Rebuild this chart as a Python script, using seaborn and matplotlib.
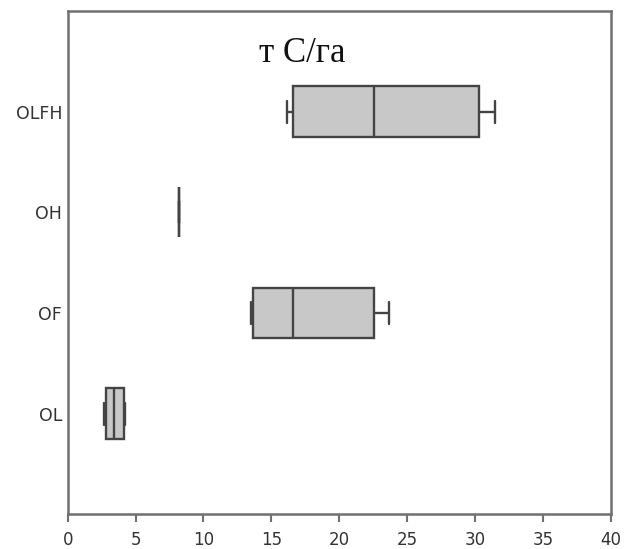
import matplotlib
matplotlib.use("Agg")
import matplotlib.pyplot as plt
import seaborn as sns
import pandas as pd

categories = ["OLFH", "OH", "OF", "OL"]
olfh_values = [16.18, 16.62, 22.56, 30.32, 31.5]
oh_values = [8.22, 8.22, 8.22, 8.22, 8.22]
of_values = [13.48, 13.63, 16.57, 22.56, 23.69]
ol_values = [2.70, 2.80, 3.41, 4.17, 4.24]
x_ticks = [0, 5, 10, 15, 20, 25, 30, 35, 40]
title_text = "т С/га"

series = [olfh_values, oh_values, of_values, ol_values]
df = pd.DataFrame({
    "layer": [c for c, vals in zip(categories, series) for _ in vals],
    "value": [v for vals in series for v in vals],
})

sns.set_style("white")
plt.rcParams["font.family"] = ["DejaVu Sans"]

fig = plt.figure(figsize=(6.24, 5.49), dpi=100)
ax = fig.add_axes([67.7 / 624, 1 - 514.3 / 549, (610.7 - 67.7) / 624, (514.3 - 11) / 549])

line_col = "#444444"
sns.boxplot(data=df, x="value", y="layer", order=categories, orient="h",
            color="#c8c8c8", saturation=1, linecolor=line_col, linewidth=1.7,
            width=0.5, whis=1.5, fliersize=0, ax=ax, capwidths=0.22)

ax.set_xlim(0, 40)
ax.set_ylim(4, -1)
ax.set_xticks(x_ticks)
ax.set_xticklabels([str(t) for t in x_ticks])
ax.set_xlabel("")
ax.set_ylabel("")

for side in ["left", "bottom", "top", "right"]:
    ax.spines[side].set_visible(True)
    ax.spines[side].set_color("#707070")
    ax.spines[side].set_linewidth(1.8)

ax.tick_params(axis="x", which="both", bottom=True, length=5.5, width=1.5,
               color="#707070", labelsize=12, labelcolor="#333333", pad=6.5)
ax.tick_params(axis="y", which="both", left=False, length=0,
               labelsize=12.5, labelcolor="#333333", pad=4)

ax.text(0.4315, 0.899, title_text, transform=ax.transAxes, ha="center",
        va="baseline", family=["Liberation Serif", "DejaVu Serif"], fontsize=25,
        color="#111111")

fig.savefig("out.png", dpi=100)
